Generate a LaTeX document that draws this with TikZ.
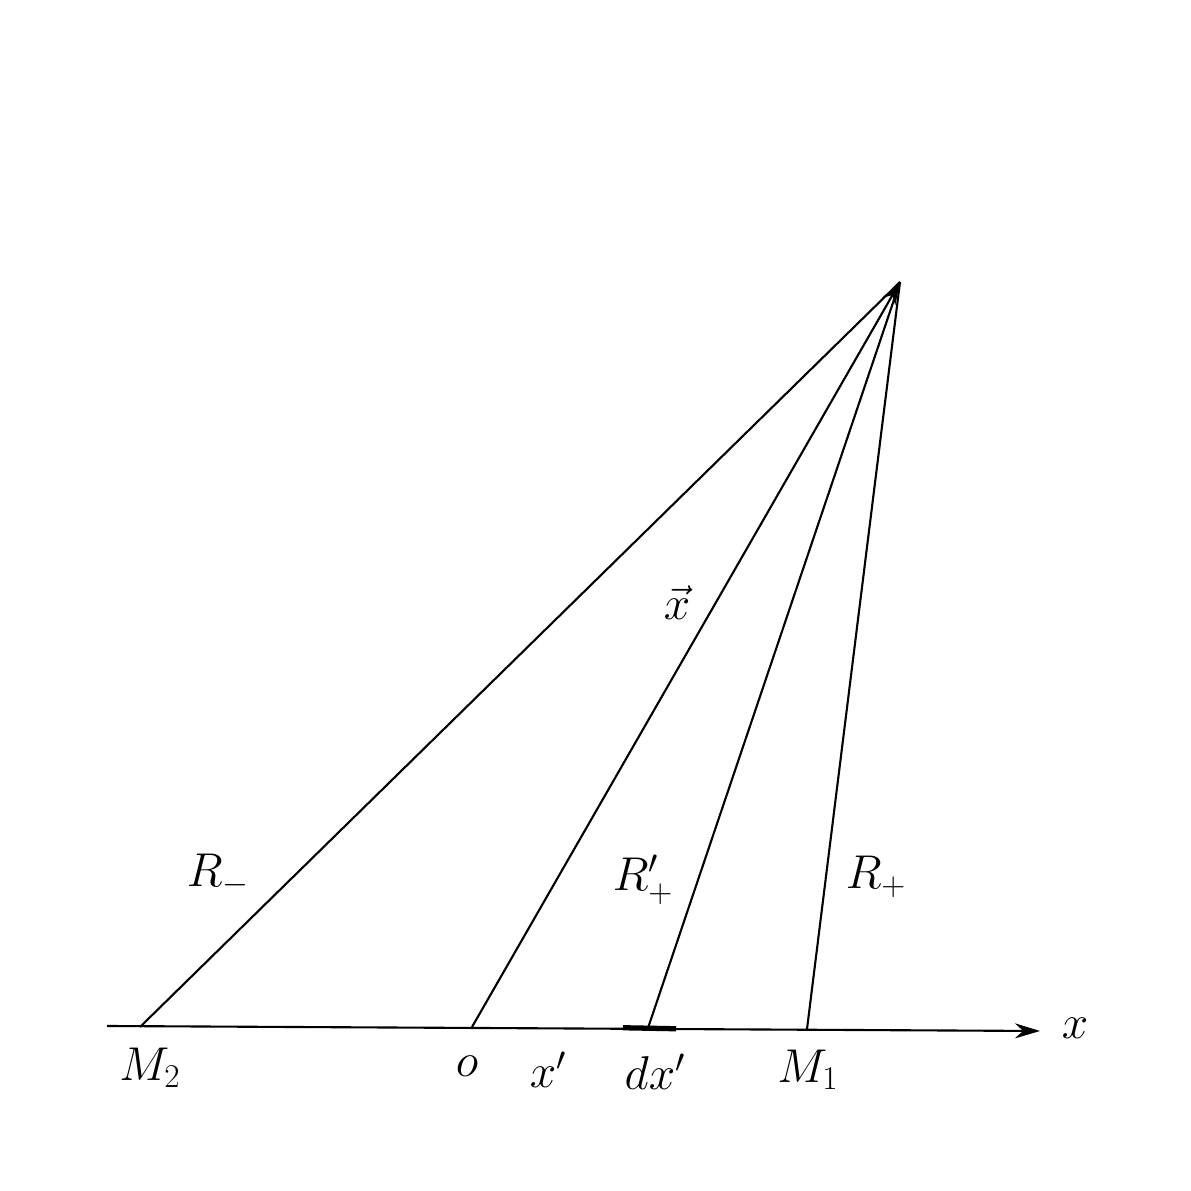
\RequirePackage{fix-cm}
\documentclass[tikz,border=0pt]{standalone}
\usepackage{tikz}
\usetikzlibrary{arrows.meta}
\tikzset{
  ray/.style={line width=1.2pt},
  lbl/.style={font=\fontsize{27}{32}\selectfont}
}
\begin{document}
\begin{tikzpicture}
        \useasboundingbox (0,0) rectangle (23.82,23.82);
        % Points on the axis and the field point
        \coordinate (P) at (18.0,18.18);
        \coordinate (A) at (2.14,3.30);
        \coordinate (B) at (20.8,3.20);
        \coordinate (M2) at (2.8,3.28);
        \coordinate (O) at (9.44,3.28);
        \coordinate (X) at (12.96,3.26);
        \coordinate (M1) at (16.14,3.24);
        \coordinate (D1) at (12.46,3.265);
        \coordinate (D2) at (13.52,3.245);

        % The axis
        \draw[ray,-{Stealth[length=0.5cm,width=0.3cm]}] (A) -- (B);
        \draw[line width=3pt] (D1) -- (D2);

        % The rays
        \draw[ray] (M2) -- (P);
        \draw[ray,-{Stealth[length=0.45cm,width=0.3cm]}] (O) -- (P);
        \draw[ray] (X) -- (P);
        \draw[ray] (M1) -- (P);

        % Labels
        \node[lbl] (lx) at (21.5,3.26) {$x$};
        \node[lbl] (lM2) at (3.0,2.46) {$M_2$};
        \node[lbl] (lo) at (9.34,2.5) {$o$};
        \node[lbl] (lxp) at (10.96,2.42) {$x'$};
        \node[lbl] (ldx) at (13.1,2.38) {$dx'$};
        \node[lbl] (lM1) at (16.16,2.42) {$M_1$};
        \node[lbl] (lRm) at (4.36,6.32) {$R_-$};
        \node[lbl] (lRpp) at (12.86,6.22) {$R'_+$};
        \node[lbl] (lRp) at (17.52,6.28) {$R_+$};
        \node[lbl] (lvx) at (13.54,11.76) {$\vec{x}$};
\end{tikzpicture}
\end{document}
